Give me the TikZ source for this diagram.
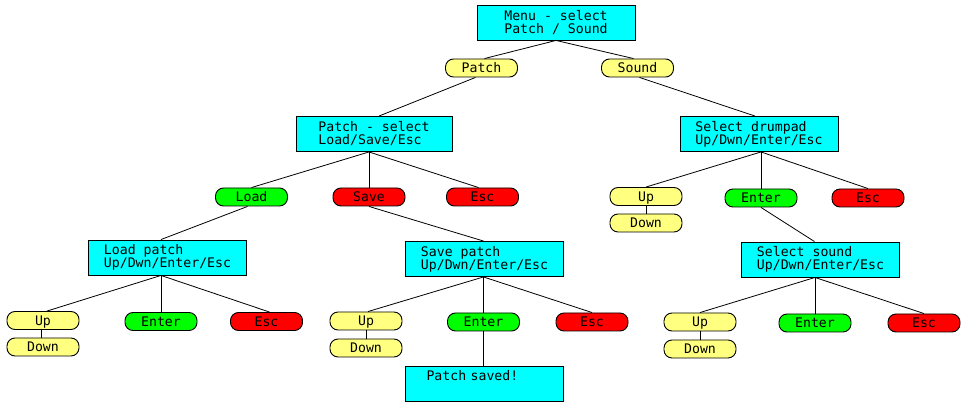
\documentclass[tikz,border=0pt]{standalone}
\usepackage{fontspec}
\newfontfamily\monofont{DejaVu Sans Mono}
\definecolor{boxcyan}{RGB}{0,255,255}
\definecolor{pillyellow}{RGB}{255,255,128}
\definecolor{pillgreen}{RGB}{0,255,0}
\definecolor{pillred}{RGB}{255,0,0}
\begin{document}
\begin{tikzpicture}[x=1pt,y=-1pt,
  every node/.style={font=\monofont\fontsize{13.2}{13}\selectfont, text=black},
  screen/.style={draw=black, line width=0.9pt, fill=boxcyan, minimum width=158pt, minimum height=35pt, inner sep=0pt, align=left},
  pill/.style={draw=black, line width=0.9pt, rounded corners=8pt, minimum width=72pt, minimum height=18pt, inner sep=0pt, text height=9.6pt, text depth=0pt},
  yel/.style={pill, fill=pillyellow},
  grn/.style={pill, fill=pillgreen},
  rd/.style={pill, fill=pillred},
  link/.style={draw=black, line width=0.8pt}]
\useasboundingbox (0,0) rectangle (977,411);
% screens
\node[screen] (b1) at (556,22.5) {Menu - select\\Patch / Sound};
\node[screen, minimum width=156pt] (b2) at (374,134) {Patch - select\\Load/Save/Esc};
\node[screen] (b5) at (759,134) {Select drumpad\\Up/Dwn/Enter/Esc};
\node[screen] (b3) at (167.5,257.5) {Load patch\\Up/Dwn/Enter/Esc};
\node[screen] (b4) at (484.5,259) {Save patch\\Up/Dwn/Enter/Esc};
\node[screen] (b6) at (820.5,259.5) {Select sound\\Up/Dwn/Enter/Esc};
\node[screen, text width=116pt] (saved) at (484.5,383.5) {Patch saved!\\\strut};
% pills
\node[yel] (patch) at (481.5,68) {Patch};
\node[yel] (sound) at (637.5,68) {Sound};
\node[grn] (load) at (251.5,197) {Load};
\node[rd] (save) at (369,197) {Save};
\node[rd] (esc2) at (482.5,197) {Esc};
\node[yel] (up5) at (646,196.5) {Up};
\node[yel] (down5) at (646,223) {Down};
\node[grn] (enter5) at (761,198) {Enter};
\node[rd] (esc5) at (868,198) {Esc};
\node[yel] (up3) at (43,320.5) {Up};
\node[yel] (down3) at (43,347) {Down};
\node[grn] (enter3) at (161,321.5) {Enter};
\node[rd] (esc3) at (266.5,321.5) {Esc};
\node[yel] (up4) at (366,321) {Up};
\node[yel] (down4) at (366,348) {Down};
\node[grn] (enter4) at (483.5,322) {Enter};
\node[rd] (esc4) at (592,322) {Esc};
\node[yel] (up6) at (700,322) {Up};
\node[yel] (down6) at (700,349) {Down};
\node[grn] (enter6) at (815,323) {Enter};
\node[rd] (esc6) at (924,323) {Esc};
% connectors
\draw[link] (b1.south) -- ([xshift=3pt]patch.north);
\draw[link] (b1.south) -- ([xshift=-4pt]sound.north);
\draw[link] ([xshift=-6pt]patch.south) -- ([xshift=5pt]b2.north);
\draw[link] ([xshift=2pt]sound.south) -- ([xshift=-4pt]b5.north);
\draw[link] (save.north |- b2.south) -- (load.north);
\draw[link] (save.north |- b2.south) -- (save.north);
\draw[link] (save.north |- b2.south) -- ([xshift=-4pt]esc2.north);
\draw[link] ([xshift=-4pt]load.south) -- (enter3.north |- b3.north);
\draw[link] (save.south) -- (enter4.north |- b4.north);
\draw[link] (enter5.north |- b5.south) -- (up5.north);
\draw[link] (enter5.north |- b5.south) -- (enter5.north);
\draw[link] (enter5.north |- b5.south) -- (esc5.north);
\draw[link] (up5.south) -- (down5.north);
\draw[link] (enter5.south) -- ([xshift=-6pt]b6.north);
\draw[link] (enter3.north |- b3.south) -- ([xshift=4pt]up3.north);
\draw[link] (enter3.north |- b3.south) -- (enter3.north);
\draw[link] (enter3.north |- b3.south) -- ([xshift=3pt]esc3.north);
\draw[link] ([xshift=-2pt]up3.south) -- ([xshift=-2pt]down3.north);
\draw[link] (enter4.north |- b4.south) -- ([xshift=2pt]up4.north);
\draw[link] (enter4.north |- b4.south) -- (enter4.north);
\draw[link] (enter4.north |- b4.south) -- (esc4.north);
\draw[link] (up4.south) -- (down4.north);
\draw[link] (enter4.south) -- (enter4.south |- saved.north);
\draw[link] (enter6.north |- b6.south) -- (up6.north);
\draw[link] (enter6.north |- b6.south) -- (enter6.north);
\draw[link] (enter6.north |- b6.south) -- (esc6.north);
\draw[link] (up6.south) -- (down6.north);
\end{tikzpicture}
\end{document}
